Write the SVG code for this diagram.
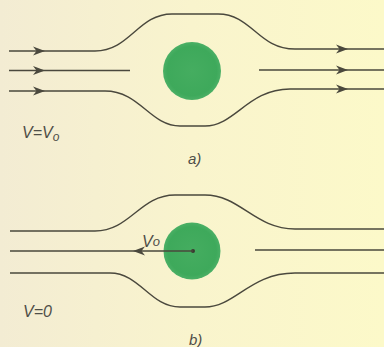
<svg xmlns="http://www.w3.org/2000/svg" width="384" height="347" viewBox="0 0 384 347">
<defs>
<linearGradient id="bg" x1="0" y1="0" x2="1" y2="0">
<stop offset="0" stop-color="#f3ecd3"/>
<stop offset="0.5" stop-color="#f9f4cd"/>
<stop offset="1" stop-color="#fcf9c9"/>
</linearGradient>
<radialGradient id="ball" cx="0.5" cy="0.5" r="0.5">
<stop offset="0" stop-color="#45ad60"/>
<stop offset="0.85" stop-color="#3ea95b"/>
<stop offset="1" stop-color="#4bb066"/>
</radialGradient>
<path id="ah" d="M0,0 L-12,-4.5 L-8.5,0 L-12,4.5 Z"/>
</defs>
<style>
.sl{fill:none;stroke:#4a483d;stroke-width:1.4}
.ar{fill:#4a483d}
.lb{font-family:"Liberation Sans",Arial,sans-serif;font-style:italic;fill:#4f4e48}
</style>
<rect width="384" height="347" fill="url(#bg)"/>

<g id="ball-a"><circle cx="192" cy="71" r="29" fill="url(#ball)"/></g>
<g id="ball-b"><circle cx="192" cy="251" r="28.5" fill="url(#ball)"/><circle cx="193" cy="251" r="2" fill="#3a3a30"/></g>

<g id="connectors">
<path class="sl" d="M9,51 L95,51 C130,51 138,14 172,14 L218,14 C252,14 258,49 295,49 L384,49"/>
<path class="sl" d="M9,70.5 L130,70.5 M259,70 L384,70"/>
<path class="sl" d="M9,91 L105,91 C140,91 150,126 180,126 L205,126 C235,126 248,89 290,89 L384,89"/>
<use href="#ah" class="ar" x="45" y="51"/>
<use href="#ah" class="ar" x="45" y="70.5"/>
<use href="#ah" class="ar" x="45" y="91"/>
<use href="#ah" class="ar" x="348" y="49"/>
<use href="#ah" class="ar" x="348" y="70"/>
<use href="#ah" class="ar" x="348" y="89"/>

<path class="sl" d="M10,231 L95,231 C130,231 140,195 175,195 L205,195 C240,195 255,229 295,229 L384,229"/>
<path class="sl" d="M10,251 L193,251 M255,250 L384,250"/>
<path class="sl" d="M10,273 L110,273 C140,273 150,307 180,307 L205,307 C235,307 250,273 295,273 L384,273"/>
<use href="#ah" class="ar" transform="translate(133,251) rotate(180)"/>
</g>

<g id="labels">
<text class="lb" x="22" y="138" font-size="16">V=V<tspan font-size="12" dy="3">o</tspan></text>
<text class="lb" x="188" y="164" font-size="15">a)</text>
<text class="lb" x="142" y="247" font-size="16">V<tspan font-size="13" dy="-1">o</tspan></text>
<text class="lb" x="23" y="317" font-size="16">V=0</text>
<text class="lb" x="189" y="345" font-size="15">b)</text>
</g>
</svg>
